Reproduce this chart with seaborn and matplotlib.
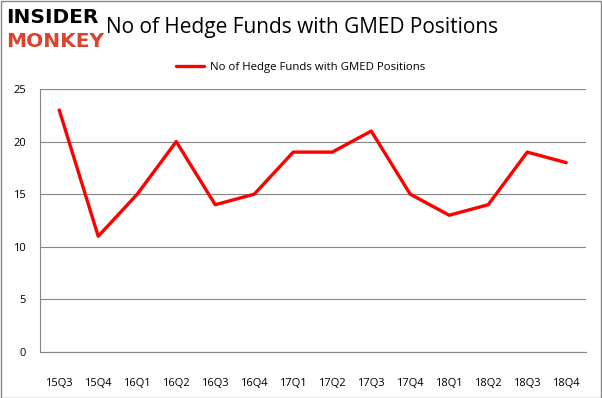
import matplotlib
matplotlib.use("Agg")
import matplotlib.pyplot as plt
import seaborn as sns
import pandas as pd
from matplotlib.patches import Rectangle

quarters = ["15Q3", "15Q4", "16Q1", "16Q2", "16Q3", "16Q4", "17Q1",
            "17Q2", "17Q3", "17Q4", "18Q1", "18Q2", "18Q3", "18Q4"]
funds = [23, 11, 15, 20, 14, 15, 19, 19, 21, 15, 13, 14, 19, 18]
series_name = "No of Hedge Funds with GMED Positions"

df = pd.DataFrame({"quarter": quarters, "funds": funds})
df["pos"] = range(len(quarters))

sns.set_style("white")
plt.rcParams["font.family"] = ["Open Sans", "DejaVu Sans"]

fig = plt.figure(figsize=(6.02, 3.98), dpi=100)
ax = fig.add_axes([0.066, 0.1156, 0.907, 0.6608])

sns.lineplot(data=df, x="pos", y="funds", color="#ff0000", linewidth=2.4,
             label=series_name, ax=ax, sort=False)

ax.set_xlim(-0.5, len(quarters) - 0.5)
ax.set_ylim(0, 25)
ax.set_yticks(range(0, 26, 5))
ax.set_xticks(range(len(quarters)))
ax.set_xticklabels(quarters)
ax.set_xticks([i - 0.5 for i in range(len(quarters) + 1)], minor=True)
ax.tick_params(axis="x", which="major", length=0, pad=19, labelsize=8, labelcolor="black")
ax.tick_params(axis="x", which="minor", length=4, color="#868686", width=0.8)
ax.tick_params(axis="y", length=4, color="#868686", width=0.8, labelsize=8, pad=6,
               labelcolor="black")
ax.yaxis.grid(True, color="#868686", linewidth=0.8)
ax.set_axisbelow(True)
for side in ["top", "right"]:
    ax.spines[side].set_visible(False)
ax.spines["left"].set_color("#868686")
ax.spines["bottom"].set_color("#868686")
ax.set_xlabel("")
ax.set_ylabel("")

leg = ax.legend(loc="lower center", bbox_to_anchor=(0.478, 1.02), frameon=False,
                fontsize=8.2, handlelength=2.5, handletextpad=0.5)
for t in leg.get_texts():
    t.set_color("black")

fig.text(0.502, 0.93, series_name, ha="center", va="center", fontsize=15, color="black")
fig.text(0.01, 0.955, "INSIDER", ha="left", va="center", fontsize=14.5,
         fontweight="heavy", color="black", family="DejaVu Sans")
fig.text(0.01, 0.895, "MONKEY", ha="left", va="center", fontsize=14.5,
         fontweight="heavy", color="#d9432f", family="DejaVu Sans")

fig.patches.append(Rectangle((0.001, 0.001), 0.997, 0.997, transform=fig.transFigure,
                             fill=False, edgecolor="#868686", linewidth=1))

fig.savefig("out.png", dpi=100)
